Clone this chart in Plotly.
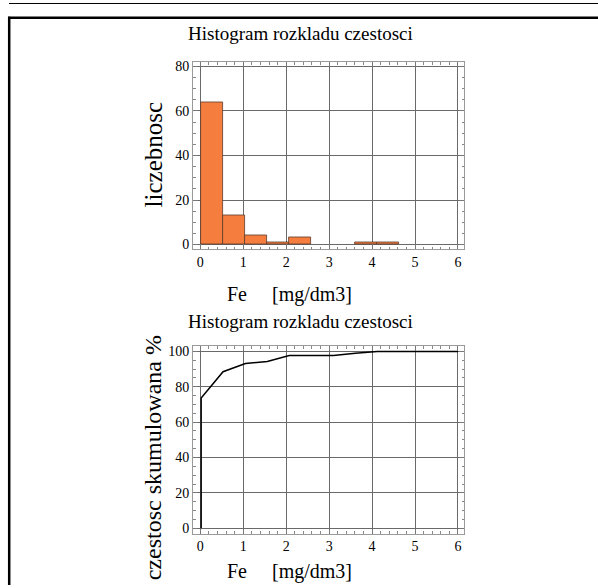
import plotly.graph_objects as go

# Histogram bins of Fe concentration [mg/dm3]
bin_left = [0.02, 0.53, 1.05, 1.56, 2.07, 2.58, 3.10, 3.61, 4.12]
bin_width = 0.513
counts = [64, 13, 4, 1, 3, 0, 0, 1, 1]

# Cumulative frequency curve [%]
cum_x = [0.02, 0.02, 0.53, 1.05, 1.56, 2.07, 2.58, 3.10, 3.61, 4.12, 6.0]
cum_pct = [0, 73.6, 88.5, 93.1, 94.3, 97.7, 97.7, 97.7, 98.9, 100, 100]

x_ticks = [0, 1, 2, 3, 4, 5, 6]
title_text = "Histogram rozkladu czestosci"
x_title = "Fe&nbsp;&nbsp;&nbsp;&nbsp;&nbsp;[mg/dm3]"

W, H = 598, 588
FONT = "Liberation Serif"
BAR_COLOR = "#F57E3E"
GRID = "#6a6a6a"
FRAME = "#9a9a9a"


def px_x(p):
    return p / W


def px_y(p):
    return 1 - p / H


# zero-count bins are left undrawn
bar_x = [b + bin_width / 2 for b, c in zip(bin_left, counts) if c > 0]
bar_y = [c for c in counts if c > 0]

fig = go.Figure()

fig.add_trace(go.Bar(
    x=bar_x, y=bar_y, width=bin_width,
    marker=dict(color=BAR_COLOR, line=dict(color="#5b3a2a", width=0.8)),
    xaxis="x", yaxis="y", showlegend=False,
))

fig.add_trace(go.Scatter(
    x=cum_x, y=cum_pct, mode="lines",
    line=dict(color="black", width=1.5),
    xaxis="x2", yaxis="y2", showlegend=False,
))

x_dom = [px_x(193), px_x(464)]


def axis(**kw):
    d = dict(
        showline=True, linecolor=FRAME, linewidth=1, mirror="allticks",
        ticks="inside", ticklen=5, tickcolor="#777", tickwidth=1,
        showgrid=True, gridcolor=GRID, gridwidth=1, zeroline=False,
        tickfont=dict(family=FONT, size=14, color="black"),
    )
    d.update(kw)
    return d


fig.update_layout(
    width=W, height=H,
    margin=dict(l=0, r=0, t=0, b=0),
    paper_bgcolor="white", plot_bgcolor="white",
    font=dict(family=FONT, color="black"),
    bargap=0,
    xaxis=axis(domain=x_dom, range=[-0.17, 6.14], tickvals=x_ticks, anchor="y",
               minor=dict(dtick=0.2, ticks="inside", ticklen=2.5, tickcolor="#888", showgrid=False)),
    yaxis=axis(domain=[px_y(249), px_y(60)], range=[-2.2, 81.8], dtick=20, anchor="x",
               minor=dict(dtick=5, ticks="inside", ticklen=2.5, tickcolor="#888", showgrid=False)),
    xaxis2=axis(domain=x_dom, range=[-0.17, 6.14], tickvals=x_ticks, anchor="y2",
                minor=dict(dtick=0.2, ticks="inside", ticklen=2.5, tickcolor="#888", showgrid=False)),
    yaxis2=axis(domain=[px_y(536), px_y(347)], range=[-3, 102.8], dtick=20, anchor="x2",
                minor=dict(dtick=5, ticks="inside", ticklen=2.5, tickcolor="#888", showgrid=False)),
)

annotations = [
    dict(text=title_text, x=px_x(300), y=px_y(31), font=dict(family=FONT, size=19)),
    dict(text=x_title, x=px_x(289), y=px_y(295), font=dict(family=FONT, size=20)),
    dict(text=title_text, x=px_x(300), y=px_y(322), font=dict(family=FONT, size=19)),
    dict(text=x_title, x=px_x(289), y=px_y(574), font=dict(family=FONT, size=20)),
    dict(text="liczebnosc", x=px_x(153), y=px_y(153), textangle=-90, font=dict(family=FONT, size=25)),
    dict(text="czestosc skumulowana %", x=px_x(153), y=px_y(460), textangle=-90,
         font=dict(family=FONT, size=24)),
]
for a in annotations:
    fig.add_annotation(xref="paper", yref="paper", showarrow=False,
                       xanchor="center", yanchor="middle", **a)

# Page frame lines
shapes = [
    dict(x0=px_x(9), x1=1, y0=px_y(0.5), y1=px_y(0.5), line=dict(color="black", width=1)),
    dict(x0=px_x(8), x1=1, y0=px_y(15), y1=px_y(15), line=dict(color="black", width=2.5)),
    dict(x0=px_x(9.2), x1=px_x(9.2), y0=px_y(14), y1=0, line=dict(color="black", width=2.5)),
]
for s in shapes:
    fig.add_shape(type="line", xref="paper", yref="paper", **s)

fig.write_html("out.html")
